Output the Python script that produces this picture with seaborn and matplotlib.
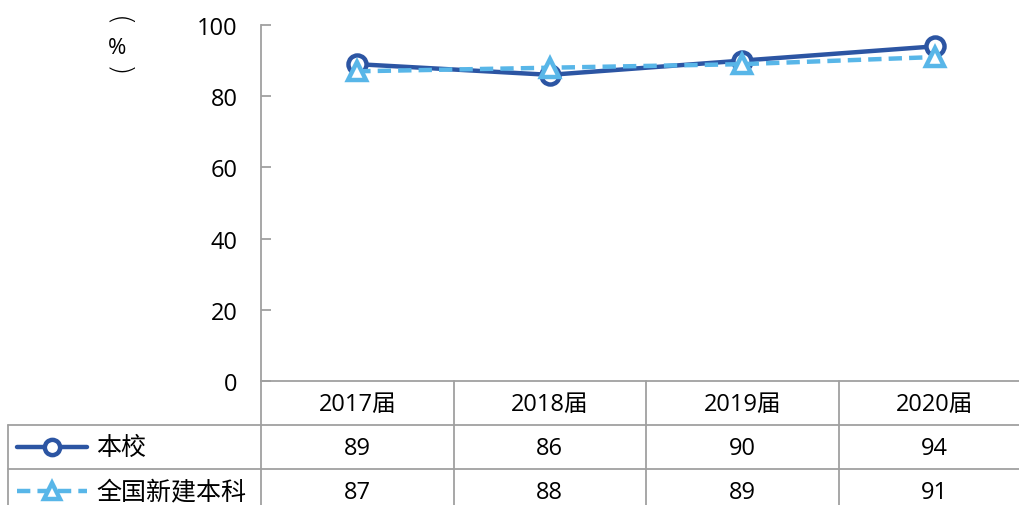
import pandas as pd
import seaborn as sns
import matplotlib.pyplot as plt
from matplotlib.lines import Line2D
import matplotlib.transforms as mtransforms

# データ
categories = ['2017届', '2018届', '2019届', '2020届']
school = [89, 86, 90, 94]
national = [87, 88, 89, 91]
series_names = ['本校', '全国新建本科']
y_ticks = [0, 20, 40, 60, 80, 100]

dark_blue = '#2C55A3'
light_blue = '#58B6E8'
grid_gray = '#A0A0A0'

sns.set_style('white')
plt.rcParams['font.family'] = ['Open Sans', 'Noto Sans CJK SC', 'DejaVu Sans']
plt.rcParams['text.color'] = 'black'
plt.rcParams['ytick.labelcolor'] = 'black'

W, H = 1019, 506
fig = plt.figure(figsize=(W / 100, H / 100), dpi=100)

# 軸の位置（ピクセルから換算）
x0, y_top, y_bot = 261, 26, 382
col_w = 192.5
ax = fig.add_axes([x0 / W, 1 - y_bot / H, 4 * col_w / W, (y_bot - y_top) / H])

df = pd.DataFrame({'x': list(range(len(categories))) * 2,
                   'value': school + national,
                   'series': [series_names[0]] * 4 + [series_names[1]] * 4})

sns.lineplot(data=df[df.series == series_names[0]], x='x', y='value', ax=ax,
             color=dark_blue, lw=3.2, marker='o', markersize=13,
             markerfacecolor='white', markeredgecolor=dark_blue, markeredgewidth=3.2,
             zorder=3)
sns.lineplot(data=df[df.series == series_names[1]], x='x', y='value', ax=ax,
             color=light_blue, lw=3.2, linestyle=(0, (3, 1.6)), marker='^', markersize=13,
             markerfacecolor='white', markeredgecolor=light_blue, markeredgewidth=3.2,
             zorder=4)

ax.set_xlim(-0.5, 3.5)
ax.set_ylim(0, 100)
ax.set_yticks(y_ticks)
ax.set_yticklabels([str(t) for t in y_ticks], fontsize=17, color='black')
ax.set_xticks([])
ax.set_xlabel('')
ax.set_ylabel('')
ax.tick_params(axis='y', left=True, direction='in', length=7, width=1.3, color=grid_gray,
               pad=17)
for s in ['top', 'right']:
    ax.spines[s].set_visible(False)
ax.spines['left'].set_color(grid_gray)
ax.spines['left'].set_linewidth(1.3)
ax.spines['bottom'].set_color(grid_gray)
ax.spines['bottom'].set_linewidth(1.3)

# （%）縦書きラベル
fig.text(117 / W, 1 - 22 / H, '(', rotation=-90, ha='center', va='center', fontsize=21,
         family=['DejaVu Sans'], fontweight='light')
fig.text(117 / W, 1 - 49 / H, '%', ha='center', va='center', fontsize=16)
fig.text(117 / W, 1 - 72 / H, ')', rotation=-90, ha='center', va='center', fontsize=21,
         family=['DejaVu Sans'], fontweight='light')

# データテーブル
row_lines = [382, 426, 470]
# 縦線
for i in range(len(categories)):
    xp = x0 + i * col_w
    fig.add_artist(Line2D([xp / W, xp / W], [1 - 382 / H, 0], color=grid_gray, lw=1.3))
fig.add_artist(Line2D([8 / W, 8 / W], [1 - 426 / H, 0], color=grid_gray, lw=1.3))
# 横線
for yl in row_lines[1:]:
    fig.add_artist(Line2D([8 / W, 1], [1 - yl / H, 1 - yl / H], color=grid_gray, lw=1.3))

trans = mtransforms.blended_transform_factory(ax.transData, fig.transFigure)
row_centers = [405, 449, 493]
for i, c in enumerate(categories):
    ax.text(i, 1 - row_centers[0] / H, c, transform=trans, ha='center', va='center',
            fontsize=17, clip_on=False)
    ax.text(i, 1 - row_centers[1] / H, str(school[i]), transform=trans, ha='center',
            va='center', fontsize=17, clip_on=False)
    ax.text(i, 1 - row_centers[2] / H, str(national[i]), transform=trans, ha='center',
            va='center', fontsize=17, clip_on=False)

# 凡例
leg_x = [17 / W, 52 / W, 87 / W]
yy = 1 - 448 / H
fig.add_artist(Line2D(leg_x, [yy] * 3, color=dark_blue, lw=3.2, marker='o', markersize=11,
                      markevery=[1], markerfacecolor='white', markeredgecolor=dark_blue,
                      markeredgewidth=3.2))
yy = 1 - 492 / H
fig.add_artist(Line2D(leg_x, [yy] * 3, color=light_blue, lw=3.2, linestyle=(0, (3, 1.6)),
                      marker='^', markersize=11, markevery=[1], markerfacecolor='white',
                      markeredgecolor=light_blue, markeredgewidth=3.2))
fig.text(96 / W, 1 - 448 / H, series_names[0], ha='left', va='center',
         fontsize=18, family=['Noto Sans CJK SC'])
fig.text(96 / W, 1 - 492 / H, series_names[1], ha='left', va='center',
         fontsize=18, family=['Noto Sans CJK SC'])

fig.savefig('out.png', dpi=100)
